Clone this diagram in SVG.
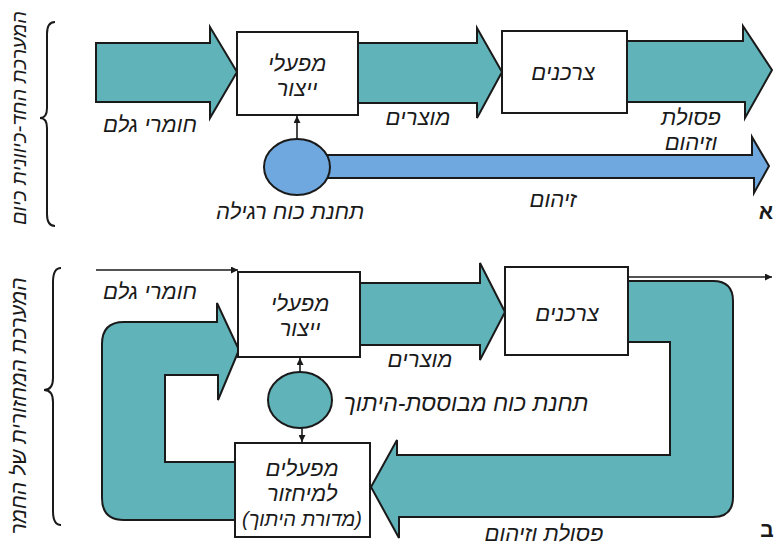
<svg xmlns="http://www.w3.org/2000/svg" width="776" height="545" viewBox="0 0 776 545">
<defs>
<style>
.box{fill:#fff;stroke:#1a1a1a;stroke-width:2}
.teal{fill:#60b3b9;stroke:#1a1a1a;stroke-width:2;stroke-linejoin:miter}
.blue{fill:#6fa8de;stroke:#1a1a1a;stroke-width:2}
.line{fill:none;stroke:#1a1a1a;stroke-width:1.6}
.brace{fill:none;stroke:#1a1a1a;stroke-width:2}
text{font-family:"Liberation Sans","DejaVu Sans",sans-serif;font-style:italic;fill:#1a1a1a;text-anchor:middle;font-size:22px}
.side{font-size:20px}
.long{font-size:23px}
.small{font-size:20px}
.mark{font-style:normal;font-weight:bold;font-size:21px}
</style>
<marker id="ah" viewBox="0 0 10 10" refX="10" refY="5" markerWidth="7" markerHeight="7" markerUnits="userSpaceOnUse" orient="auto">
<path d="M0,0 L10,5 L0,10 Z" fill="#1a1a1a"/>
</marker>
</defs>
<rect width="776" height="545" fill="#fff"/>

<g id="labels-side">
<path class="brace" d="M55,22 Q47,22 47,34 L47,108 Q47,118 40,118 Q47,118 47,128 L47,214 Q47,226 55,226"/>
<text class="side" transform="translate(26,118) rotate(-90)">המערכת החד-כיוונית כיום</text>
<path class="brace" d="M61,268 Q53,268 53,282 L53,378 Q53,390 44,390 Q53,390 53,402 L53,511 Q53,525 61,525"/>
<text class="side" transform="translate(26,406) rotate(-90)" style="font-size:21px">המערכת המחזורית של החמר</text>
<text class="mark" x="766" y="219">א</text>
<text class="mark" x="767" y="537">ב</text>
</g>

<g id="connectors">
<path class="teal" d="M96,43 L210,43 L210,27 L237,72 L210,118 L210,102 L96,102 Z"/>
<path class="teal" d="M358,43 L477,43 L477,28 L502,72 L477,118 L477,103 L358,103 Z"/>
<path class="teal" d="M627,41 L743,41 L743,26 L772,70 L745,118 L745,102 L627,102 Z"/>
<path class="blue" d="M310,155 L752,155 L752,137 L769,166 L754,193 L754,178 L310,178 Z"/>
<line class="line" x1="297" y1="139" x2="297" y2="116" marker-end="url(#ah)"/>
<line class="line" x1="96" y1="270" x2="238" y2="270" marker-end="url(#ah)"/>
<path class="teal" d="M360,283 L480,283 L480,263 L505,312 L480,360 L480,345 L360,345 Z"/>
<path class="teal" d="M628,281 L713,281 Q733,281 733,301 L733,497 Q733,517 713,517 L399,517 L399,538 L371,487 L397,440 L397,455 L670,455 L670,342 L628,342 Z"/>
<path class="teal" d="M236,520 L124,520 Q102,520 102,498 L102,344 Q102,322 124,322 L217,322 L217,303 L239,350 L218,400 L218,375 L165,375 L165,462 L236,462 Z"/>
<line class="line" x1="628" y1="277" x2="772" y2="277" marker-end="url(#ah)"/>
<line class="line" x1="300" y1="372" x2="300" y2="358" marker-end="url(#ah)"/>
<line class="line" x1="302" y1="428" x2="302" y2="442" marker-end="url(#ah)"/>
</g>

<g id="node-production-top">
<rect class="box" x="237" y="32" width="121" height="83"/>
<text x="297" y="71">מפעלי</text>
<text x="297" y="96">ייצור</text>
</g>
<g id="node-consumers-top">
<rect class="box" x="502" y="31" width="125" height="82"/>
<text x="563" y="80">צרכנים</text>
</g>
<g id="node-powerplant-top">
<ellipse class="blue" cx="297" cy="167" rx="33" ry="28"/>
<text x="290" y="219">תחנת כוח רגילה</text>
</g>
<g id="labels-top">
<text x="150" y="132">חומרי גלם</text>
<text x="418" y="125">מוצרים</text>
<text x="691" y="125">פסולת</text>
<text x="691" y="150">וזיהום</text>
<text x="553" y="207">זיהום</text>
</g>

<g id="node-production-bottom">
<rect class="box" x="238" y="272" width="122" height="85"/>
<text x="300" y="311">מפעלי</text>
<text x="300" y="336">ייצור</text>
</g>
<g id="node-consumers-bottom">
<rect class="box" x="505" y="267" width="123" height="88"/>
<text x="567" y="321">צרכנים</text>
</g>
<g id="node-powerplant-bottom">
<ellipse class="teal" cx="300" cy="400" rx="32" ry="28"/>
<text class="long" x="466" y="411">תחנת כוח מבוססת-היתוך</text>
</g>
<g id="node-recycling">
<rect class="box" x="235" y="443" width="135" height="94"/>
<text x="302" y="476">מפעלים</text>
<text x="302" y="501">למיחזור</text>
<text class="small" x="302" y="526">(מדורת היתוך)</text>
</g>
<g id="labels-bottom">
<text x="150" y="299">חומרי גלם</text>
<text x="420" y="367">מוצרים</text>
<text x="544" y="541">פסולת וזיהום</text>
</g>
</svg>
